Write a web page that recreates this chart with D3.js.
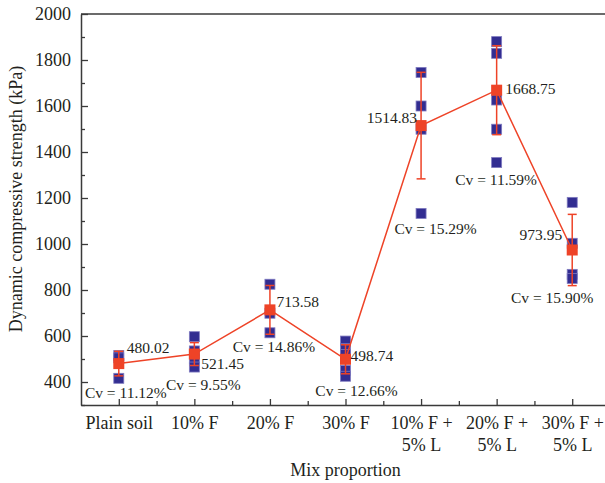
<!DOCTYPE html>
<html>
<head>
<meta charset="utf-8">
<script src="https://cdn.jsdelivr.net/npm/d3@7"></script>
<style>
  html, body { margin: 0; padding: 0; background: #fff; }
  svg { display: block; }
  text { font-family: "Liberation Serif", "Times New Roman", serif; fill: #231f20; }
</style>
</head>
<body>
<svg id="chart" width="605" height="483"></svg>
<script>
// Mix proportions (x categories), each label split into display lines
const categories = [
  ["Plain soil"], ["10% F"], ["20% F"], ["30% F"],
  ["10% F +", "5% L"], ["20% F +", "5% L"], ["30% F +", "5% L"]
];
// Mean dynamic compressive strength (kPa)
const means = [480.02, 521.45, 713.58, 498.74, 1514.83, 1668.75, 973.95];
// Standard deviation of each group (kPa)
const stdDevs = [53.4, 49.8, 106.0, 63.1, 231.6, 193.4, 154.9];
// Coefficient of variation labels
const cvLabels = ["Cv = 11.12%", "Cv = 9.55%", "Cv = 14.86%", "Cv = 12.66%",
                  "Cv = 15.29%", "Cv = 11.59%", "Cv = 15.90%"];
// Individual specimen results (kPa)
const samples = [
  [515, 505, 416],
  [597, 535, 500, 465],
  [825, 699, 614],
  [578, 545, 520, 450, 425],
  [1746, 1600, 1499, 1133],
  [1880, 1829, 1626, 1499, 1354],
  [1181, 1003, 868, 850]
];
const yMajorTicks = [400, 600, 800, 1000, 1200, 1400, 1600, 1800, 2000];
const yMinorTicks = [300, 500, 700, 900, 1100, 1300, 1500, 1700, 1900];

// Label placement relative to each mean point: [dx, dy, anchor]
const meanLabelPos = [[8, -10.5, "start"], [7, 15, "start"], [6.5, -3, "start"], [5, 2, "start"],
                      [-4, -3, "end"], [8.5, 3.5, "start"], [-10, -10, "end"]];
const cvLabelPos = [[7, 34, "middle"], [9, 36, "middle"], [4, 42, "middle"], [11, 37, "middle"],
                    [14.5, 108, "middle"], [-0.5, 94.5, "middle"], [-20, 53.5, "middle"]];

const svg = d3.select("#chart");
const axisColor = "#3a3a3a";
const red = "#ee4327";
const blue = "#322d91";

const x = d3.scaleLinear().domain([-0.5, 6.5]).range([81, 610]);
const y = d3.scaleLinear().domain([300, 2000]).range([405, 14]);

// Top frame line
svg.append("line")
  .attr("x1", x(-0.5)).attr("x2", 605)
  .attr("y1", y(2000)).attr("y2", y(2000))
  .attr("stroke", axisColor).attr("stroke-width", 1.5);

// Y axis: minor ticks, then major ticks with labels
svg.append("g").attr("transform", `translate(${x(-0.5)},0)`)
  .call(d3.axisLeft(y).tickValues(yMinorTicks).tickSize(-4).tickSizeOuter(0).tickFormat(""))
  .call(g => g.select(".domain").remove())
  .call(g => g.selectAll("line").attr("stroke", axisColor).attr("stroke-width", 1.3));
svg.append("g").attr("transform", `translate(${x(-0.5)},0)`)
  .call(d3.axisLeft(y).tickValues(yMajorTicks).tickSize(-7).tickSizeOuter(0).tickPadding(10).tickFormat(d3.format("d")))
  .call(g => g.select(".domain").attr("stroke", axisColor).attr("stroke-width", 1.5))
  .call(g => g.selectAll("line").attr("stroke", axisColor).attr("stroke-width", 1.3))
  .call(g => g.selectAll("text").attr("font-size", 18).attr("font-family", "Liberation Serif").attr("fill", "#231f20"));

// X axis: minor ticks between categories, major ticks at categories
const xIdx = d3.range(categories.length);
svg.append("g").attr("transform", `translate(0,${y(300)})`)
  .call(d3.axisBottom(x).tickValues(xIdx.map(i => i + 0.5)).tickSize(-4).tickSizeOuter(0).tickFormat(""))
  .call(g => g.select(".domain").remove())
  .call(g => g.selectAll("line").attr("stroke", axisColor).attr("stroke-width", 1.3));
const xAxis = svg.append("g").attr("transform", `translate(0,${y(300)})`)
  .call(d3.axisBottom(x).tickValues(xIdx).tickSize(-6).tickSizeOuter(0).tickPadding(12).tickFormat(""))
  .call(g => g.select(".domain").attr("stroke", axisColor).attr("stroke-width", 1.5))
  .call(g => g.selectAll("line").attr("stroke", axisColor).attr("stroke-width", 1.3));
xAxis.selectAll(".tick").each(function(d) {
  const t = d3.select(this).append("text")
    .attr("text-anchor", "middle").attr("font-size", 18)
    .attr("font-family", "Liberation Serif").attr("fill", "#231f20");
  categories[d].forEach((line, k) => {
    t.append("tspan").attr("x", 0).attr("y", 24 + k * 22).text(line);
  });
});

// Axis titles
svg.append("text")
  .attr("x", x(3)).attr("y", 476)
  .attr("text-anchor", "middle").attr("font-size", 18)
  .text("Mix proportion");
svg.append("text")
  .attr("transform", `translate(22,199) rotate(-90)`)
  .attr("text-anchor", "middle").attr("font-size", 18)
  .text("Dynamic compressive strength (kPa)");

// Individual specimen markers
const sq = 10;
const specimenPts = samples.flatMap((vals, i) => vals.map(v => ({ i, v })));
svg.append("g").selectAll("rect").data(specimenPts).join("rect")
  .attr("x", d => x(d.i) - sq / 2).attr("y", d => y(d.v) - sq / 2)
  .attr("width", sq).attr("height", sq)
  .attr("fill", blue).attr("stroke", "#7f7ac0").attr("stroke-width", 0.8);

// Error bars (mean ± standard deviation)
const eb = svg.append("g").attr("stroke", red).attr("stroke-width", 1.5);
xIdx.forEach(i => {
  const top = y(means[i] + stdDevs[i]), bot = y(means[i] - stdDevs[i]), cx = x(i);
  eb.append("line").attr("x1", cx).attr("x2", cx).attr("y1", top).attr("y2", bot);
  eb.append("line").attr("x1", cx - 4.5).attr("x2", cx + 4.5).attr("y1", top).attr("y2", top);
  eb.append("line").attr("x1", cx - 4.5).attr("x2", cx + 4.5).attr("y1", bot).attr("y2", bot);
});

// Line through the means
svg.append("path")
  .datum(means)
  .attr("fill", "none").attr("stroke", red).attr("stroke-width", 1.5)
  .attr("d", d3.line().x((d, i) => x(i)).y(d => y(d)));

// Mean markers
svg.append("g").selectAll("rect").data(means).join("rect")
  .attr("x", (d, i) => x(i) - 5.5).attr("y", d => y(d) - 5.5)
  .attr("width", 11).attr("height", 11)
  .attr("fill", red);

// Mean value labels
svg.append("g").selectAll("text").data(means).join("text")
  .attr("x", (d, i) => x(i) + meanLabelPos[i][0])
  .attr("y", (d, i) => y(d) + meanLabelPos[i][1])
  .attr("text-anchor", (d, i) => meanLabelPos[i][2])
  .attr("font-size", 15.5)
  .text(d => d.toFixed(2));

// Coefficient of variation labels
svg.append("g").selectAll("text").data(cvLabels).join("text")
  .attr("x", (d, i) => x(i) + cvLabelPos[i][0])
  .attr("y", (d, i) => y(means[i]) + cvLabelPos[i][1])
  .attr("text-anchor", (d, i) => cvLabelPos[i][2])
  .attr("font-size", 15.5)
  .text(d => d);
</script>
</body>
</html>
